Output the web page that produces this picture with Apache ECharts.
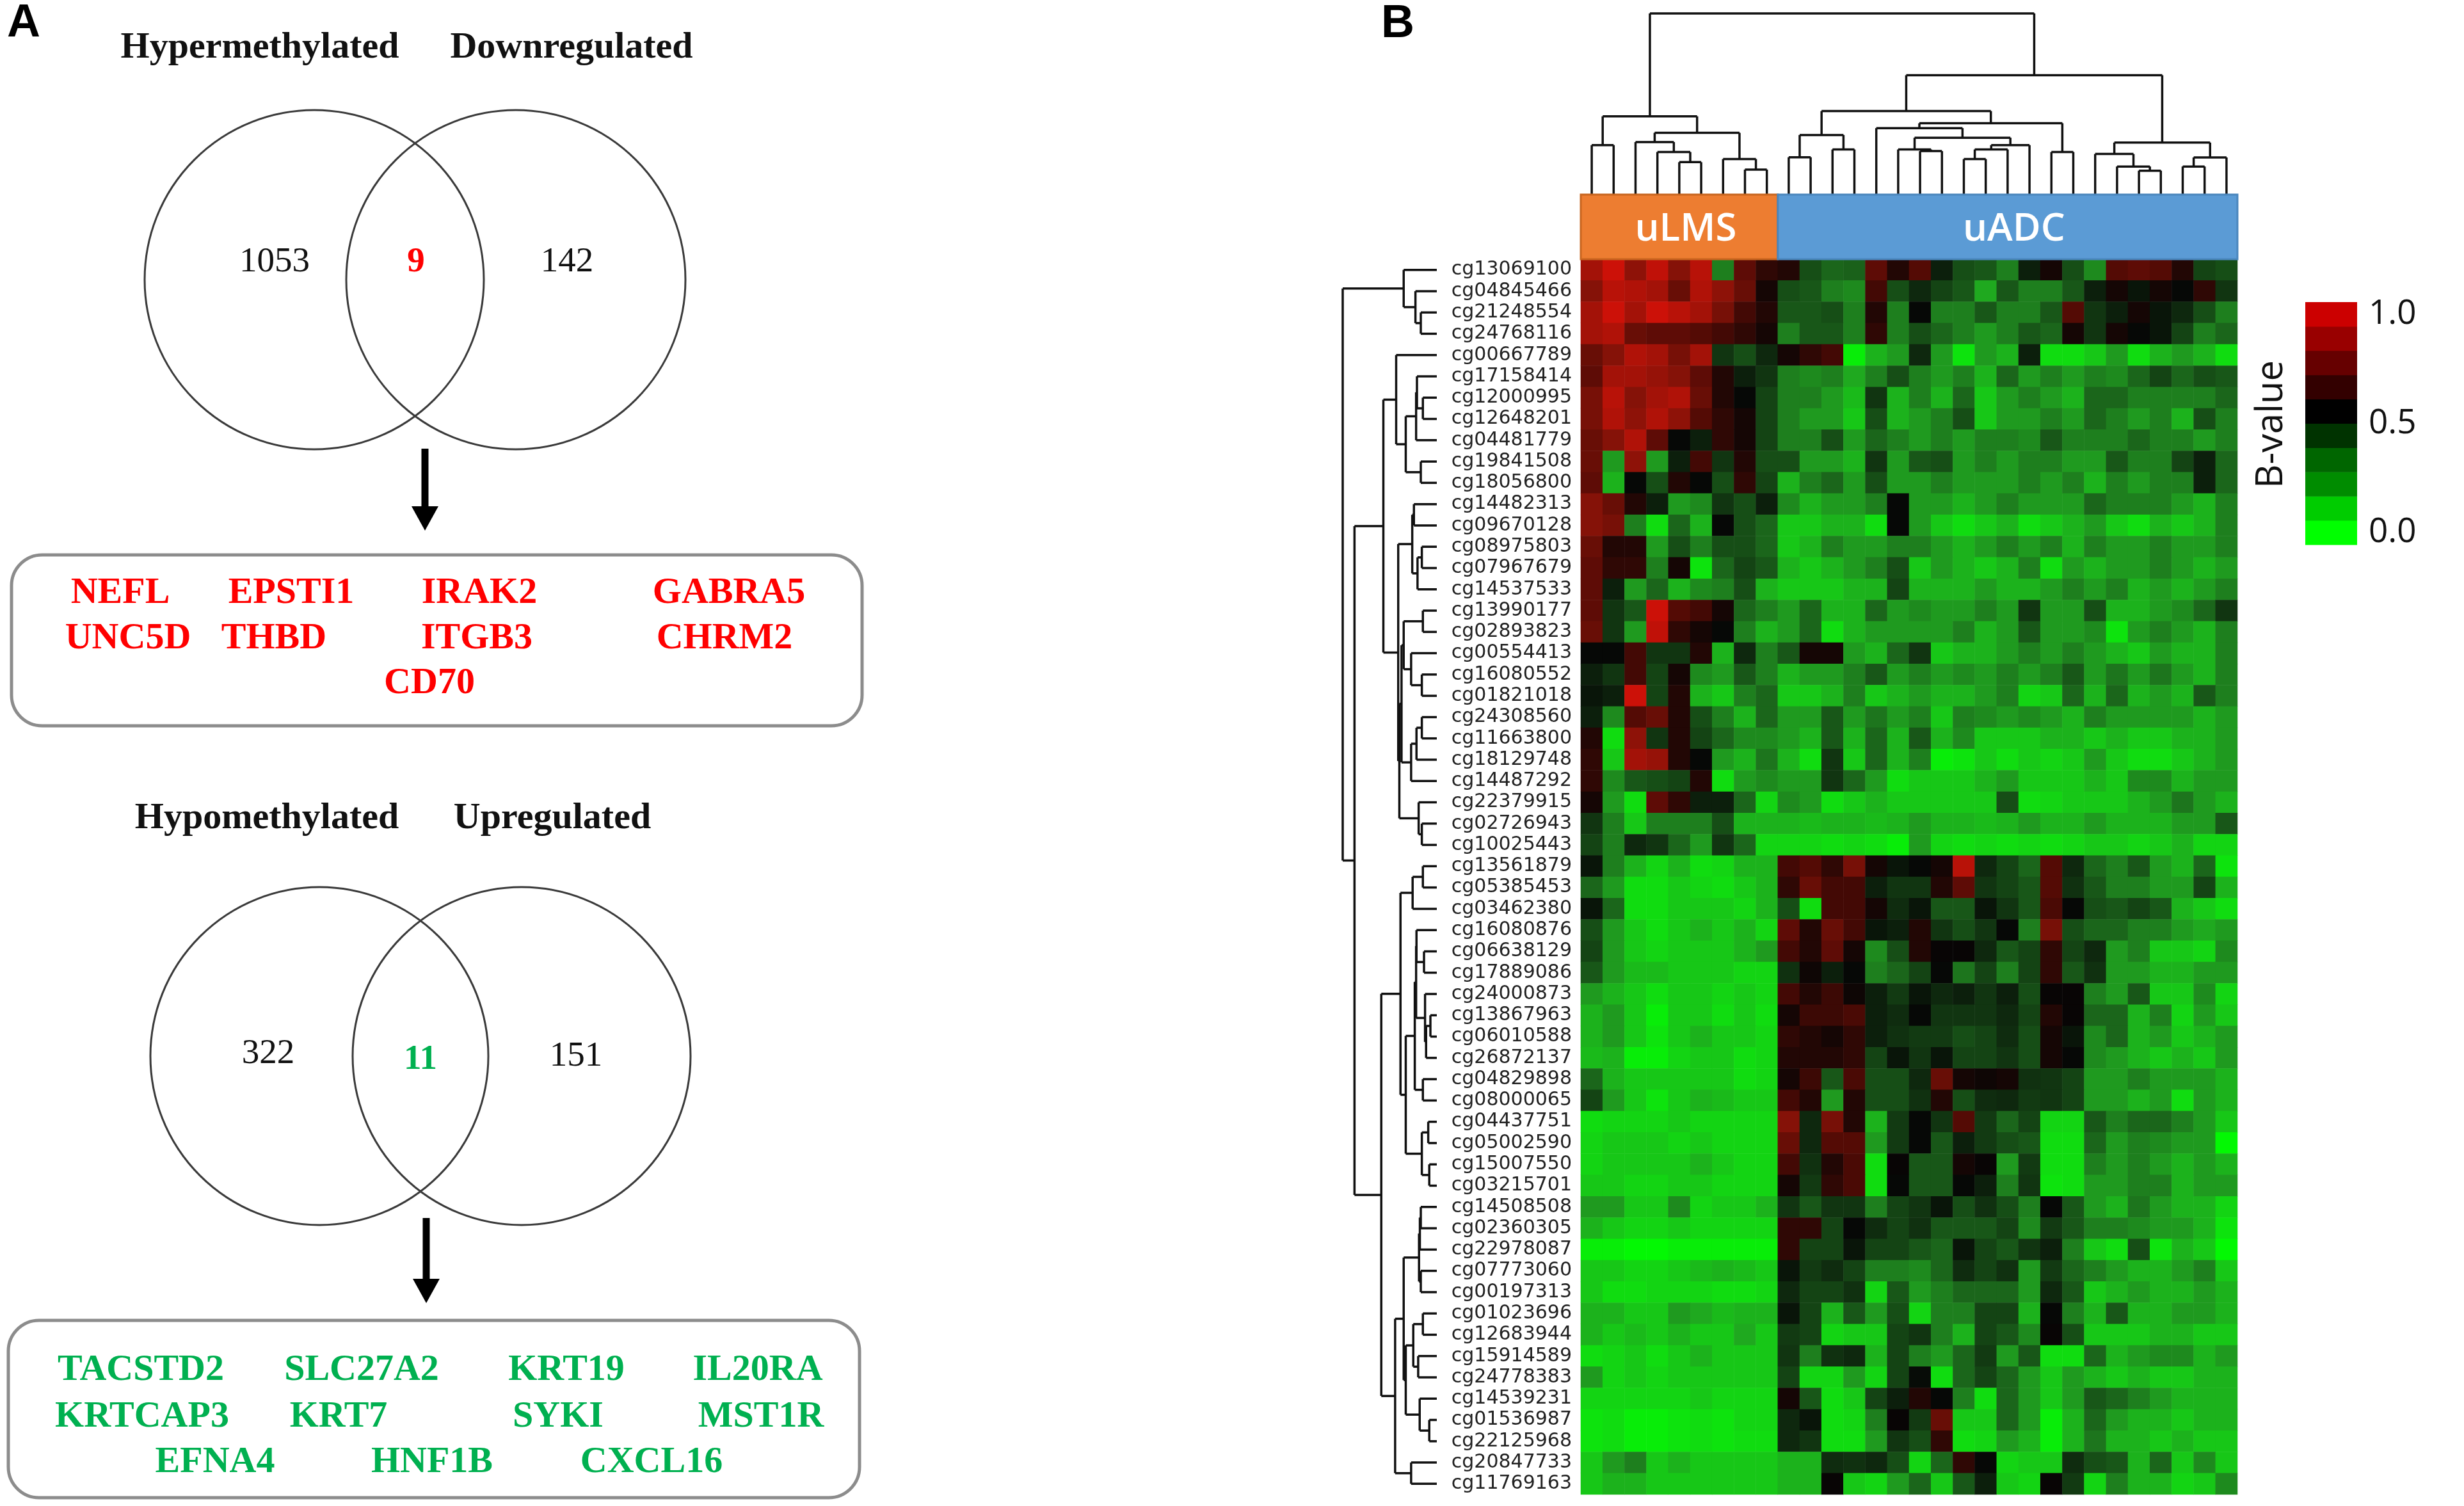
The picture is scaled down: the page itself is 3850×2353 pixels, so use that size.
<!DOCTYPE html>
<html>
<head>
<meta charset="utf-8">
<title>Methylation Venn and heatmap</title>
<script src="https://cdn.jsdelivr.net/npm/echarts/dist/echarts.min.js"></script>
<style>
  html, body { margin: 0; padding: 0; background: #fff; }
  #chart { width: 3850px; height: 2353px; }
</style>
</head>
<body>
<div id="chart"></div>
<script>
// ---- panel A data ----
const vennTitles = [['Hypermethylated', 'Downregulated'], ['Hypomethylated', 'Upregulated']];
const vennCounts = [[1053, 9, 142], [322, 11, 151]];
const vennGenes = [
    [['NEFL', 'EPSTI1', 'IRAK2', 'GABRA5'], ['UNC5D', 'THBD', 'ITGB3', 'CHRM2'], ['CD70']],
    [['TACSTD2', 'SLC27A2', 'KRT19', 'IL20RA'], ['KRTCAP3', 'KRT7', 'SYKI', 'MST1R'], ['EFNA4', 'HNF1B', 'CXCL16']]
];
const vennColors = ['#ff0000', '#00b050'];

// ---- panel B data ----
const groupNames = ['uLMS', 'uADC'];
const groupSizes = [9, 21];
const groupColors = ['#ed7d31', '#5b9bd5'];

const probes = ['cg13069100', 'cg04845466', 'cg21248554', 'cg24768116', 'cg00667789', 'cg17158414',
    'cg12000995', 'cg12648201', 'cg04481779', 'cg19841508', 'cg18056800', 'cg14482313', 'cg09670128',
    'cg08975803', 'cg07967679', 'cg14537533', 'cg13990177', 'cg02893823', 'cg00554413', 'cg16080552',
    'cg01821018', 'cg24308560', 'cg11663800', 'cg18129748', 'cg14487292', 'cg22379915', 'cg02726943',
    'cg10025443', 'cg13561879', 'cg05385453', 'cg03462380', 'cg16080876', 'cg06638129', 'cg17889086',
    'cg24000873', 'cg13867963', 'cg06010588', 'cg26872137', 'cg04829898', 'cg08000065', 'cg04437751',
    'cg05002590', 'cg15007550', 'cg03215701', 'cg14508508', 'cg02360305', 'cg22978087', 'cg07773060',
    'cg00197313', 'cg01023696', 'cg12683944', 'cg15914589', 'cg24778383', 'cg14539231', 'cg01536987',
    'cg22125968', 'cg20847733', 'cg11769163'];

// B-values, uLMS samples (9 columns), one row per probe
const lmsValues = [
    [.85,.95,.8,.92,.78,.9,.3,.7,.62], [.78,.9,.88,.85,.72,.88,.8,.72,.58], [.85,.95,.85,.95,.9,.85,.75,.65,.6],
    [.85,.88,.72,.7,.7,.68,.65,.62,.58], [.72,.78,.88,.85,.75,.85,.45,.4,.48], [.7,.85,.85,.82,.78,.7,.6,.5,.45],
    [.75,.9,.78,.85,.88,.72,.6,.55,.42], [.75,.88,.8,.88,.8,.68,.62,.58,.42], [.72,.78,.88,.7,.55,.5,.62,.58,.42],
    [.72,.25,.8,.25,.5,.65,.45,.6,.4], [.7,.2,.55,.4,.6,.55,.4,.62,.42], [.78,.72,.6,.5,.25,.28,.45,.4,.5],
    [.78,.75,.3,.1,.35,.2,.55,.4,.35], [.72,.6,.6,.25,.4,.3,.4,.4,.35], [.7,.62,.62,.3,.58,.08,.35,.42,.38],
    [.7,.5,.25,.35,.2,.28,.3,.4,.2], [.7,.45,.38,.95,.68,.65,.58,.35,.3], [.72,.45,.25,.92,.62,.58,.55,.3,.2],
    [.55,.55,.65,.45,.45,.6,.2,.48,.3], [.5,.45,.65,.42,.58,.28,.25,.38,.3], [.52,.5,.95,.42,.6,.2,.15,.3,.35],
    [.5,.28,.68,.72,.6,.4,.3,.2,.35], [.6,.1,.8,.45,.6,.42,.35,.28,.28], [.62,.15,.85,.82,.6,.55,.25,.2,.32],
    [.62,.28,.38,.4,.42,.6,.1,.25,.28], [.58,.25,.1,.7,.62,.5,.5,.35,.12], [.45,.3,.15,.3,.3,.3,.4,.2,.2],
    [.42,.3,.48,.45,.35,.25,.45,.35,.12], [.52,.3,.2,.12,.2,.1,.12,.2,.2], [.35,.25,.1,.1,.15,.12,.1,.15,.2],
    [.52,.35,.1,.1,.15,.15,.15,.12,.2], [.4,.25,.15,.1,.15,.2,.15,.2,.12], [.42,.25,.15,.12,.15,.15,.15,.2,.25],
    [.38,.25,.18,.18,.15,.15,.15,.12,.12], [.25,.2,.15,.1,.15,.15,.12,.15,.12], [.2,.25,.15,.05,.15,.15,.1,.15,.1],
    [.2,.25,.15,.08,.15,.2,.15,.15,.12], [.18,.2,.05,.05,.12,.15,.15,.1,.12], [.35,.2,.15,.15,.15,.15,.15,.1,.12],
    [.42,.25,.15,.08,.15,.2,.18,.15,.15], [.1,.12,.12,.12,.15,.12,.12,.12,.12], [.12,.15,.15,.15,.12,.15,.12,.12,.12],
    [.12,.15,.15,.15,.15,.2,.15,.12,.12], [.15,.15,.12,.12,.15,.15,.12,.12,.12], [.25,.25,.15,.15,.28,.12,.15,.15,.2],
    [.2,.15,.12,.12,.15,.12,.12,.12,.12], [.05,.05,.02,.02,.05,.05,.05,.05,.05], [.15,.15,.12,.12,.15,.18,.2,.18,.15],
    [.15,.1,.1,.12,.12,.12,.1,.1,.12], [.2,.2,.15,.15,.25,.22,.18,.2,.2], [.2,.15,.18,.15,.2,.15,.15,.22,.15],
    [.1,.12,.15,.1,.15,.2,.15,.15,.15], [.25,.12,.15,.12,.15,.15,.15,.15,.15], [.12,.12,.12,.12,.12,.15,.12,.12,.12],
    [.08,.1,.05,.05,.08,.1,.08,.12,.12], [.08,.1,.05,.05,.08,.1,.08,.1,.1], [.15,.25,.3,.15,.2,.15,.15,.15,.15],
    [.15,.2,.2,.15,.15,.15,.15,.15,.15]
];

// B-values, uADC samples (21 columns)
const adcValues = [
    [.6,.4,.35,.36,.7,.6,.68,.5,.4,.38,.3,.5,.58,.4,.28,.68,.7,.68,.6,.42,.4],
    [.4,.38,.3,.28,.65,.4,.48,.42,.38,.22,.38,.3,.3,.38,.5,.58,.52,.58,.55,.62,.45],
    [.38,.38,.4,.3,.6,.3,.55,.3,.3,.38,.3,.3,.38,.68,.45,.5,.58,.52,.48,.4,.3],
    [.3,.38,.38,.3,.62,.3,.4,.35,.3,.25,.3,.38,.35,.58,.45,.58,.55,.52,.42,.3,.35],
    [.58,.62,.65,.05,.2,.25,.48,.25,.08,.25,.2,.5,.1,.1,.15,.25,.1,.2,.25,.2,.1],
    [.3,.28,.3,.22,.3,.4,.3,.25,.3,.2,.35,.25,.3,.25,.3,.28,.35,.42,.35,.4,.38],
    [.3,.3,.25,.18,.45,.2,.3,.2,.35,.15,.25,.3,.25,.2,.35,.35,.3,.3,.3,.3,.35],
    [.3,.25,.25,.15,.4,.2,.25,.3,.4,.15,.25,.25,.3,.25,.35,.3,.25,.3,.2,.4,.3],
    [.3,.3,.4,.25,.35,.3,.25,.3,.25,.3,.3,.28,.38,.3,.3,.3,.35,.3,.3,.25,.3],
    [.4,.25,.25,.2,.45,.25,.38,.4,.25,.3,.25,.3,.3,.25,.25,.38,.3,.3,.42,.5,.35],
    [.2,.3,.35,.25,.4,.25,.25,.3,.25,.25,.25,.3,.25,.3,.2,.3,.25,.3,.3,.5,.35],
    [.28,.2,.25,.25,.3,.55,.25,.25,.2,.25,.3,.25,.25,.25,.35,.3,.3,.3,.25,.2,.3],
    [.15,.15,.2,.2,.1,.55,.25,.15,.1,.15,.2,.1,.15,.2,.25,.15,.1,.2,.15,.2,.3],
    [.15,.2,.3,.25,.25,.3,.3,.25,.2,.25,.3,.25,.3,.2,.3,.25,.25,.3,.25,.25,.3],
    [.2,.15,.2,.25,.3,.4,.15,.25,.2,.15,.2,.3,.1,.25,.2,.25,.25,.3,.25,.2,.25],
    [.15,.15,.15,.2,.2,.42,.2,.2,.2,.25,.2,.2,.25,.3,.25,.3,.2,.25,.2,.25,.3],
    [.25,.35,.2,.2,.35,.25,.28,.25,.25,.3,.25,.45,.25,.25,.4,.2,.2,.25,.28,.35,.45],
    [.25,.35,.1,.2,.25,.25,.25,.25,.3,.2,.25,.38,.25,.25,.28,.08,.25,.3,.25,.2,.3],
    [.38,.58,.58,.25,.2,.35,.45,.15,.2,.2,.25,.3,.25,.3,.25,.2,.15,.25,.2,.2,.3],
    [.2,.25,.25,.3,.38,.25,.3,.25,.28,.25,.3,.25,.3,.38,.25,.32,.25,.32,.25,.2,.3],
    [.15,.15,.2,.3,.15,.2,.25,.2,.2,.25,.3,.12,.15,.35,.2,.35,.2,.25,.2,.38,.3],
    [.25,.25,.38,.25,.32,.25,.3,.15,.3,.28,.25,.28,.25,.2,.3,.25,.25,.25,.25,.2,.25],
    [.25,.2,.38,.2,.35,.2,.38,.2,.28,.15,.15,.15,.2,.2,.15,.2,.15,.15,.2,.2,.25],
    [.2,.1,.45,.15,.35,.2,.3,.05,.08,.15,.1,.15,.12,.15,.25,.15,.1,.1,.15,.2,.25],
    [.25,.25,.45,.35,.25,.1,.15,.15,.15,.2,.25,.15,.15,.15,.2,.15,.28,.28,.2,.25,.25],
    [.28,.25,.1,.15,.2,.15,.15,.15,.15,.15,.4,.1,.12,.15,.15,.15,.2,.25,.32,.25,.2],
    [.2,.18,.2,.2,.18,.2,.25,.2,.2,.18,.2,.25,.2,.2,.25,.2,.2,.2,.25,.25,.38],
    [.12,.12,.1,.12,.1,.05,.25,.12,.1,.12,.1,.12,.1,.12,.15,.15,.12,.15,.2,.12,.12],
    [.65,.68,.62,.75,.58,.52,.55,.58,.9,.48,.42,.35,.68,.48,.35,.3,.38,.25,.2,.35,.08],
    [.62,.72,.65,.65,.5,.45,.45,.6,.7,.45,.42,.38,.68,.46,.38,.3,.3,.25,.25,.42,.2],
    [.4,.1,.65,.65,.58,.47,.52,.38,.38,.52,.45,.38,.66,.55,.4,.38,.42,.38,.2,.15,.1],
    [.7,.6,.72,.65,.52,.5,.6,.45,.4,.45,.55,.3,.75,.4,.35,.35,.3,.3,.25,.22,.25],
    [.65,.6,.7,.58,.28,.4,.6,.56,.56,.48,.38,.42,.62,.42,.48,.25,.3,.15,.15,.12,.28],
    [.46,.57,.5,.55,.3,.35,.42,.55,.32,.42,.3,.42,.62,.38,.46,.25,.25,.2,.2,.25,.25],
    [.65,.6,.64,.57,.5,.44,.52,.48,.5,.45,.5,.4,.56,.56,.3,.25,.38,.15,.15,.28,.12],
    [.58,.64,.64,.66,.5,.47,.55,.45,.45,.45,.48,.42,.6,.56,.35,.35,.2,.3,.12,.25,.15],
    [.62,.6,.58,.62,.5,.46,.44,.44,.4,.42,.47,.4,.58,.52,.28,.35,.2,.25,.15,.2,.25],
    [.6,.6,.6,.62,.42,.52,.45,.52,.42,.42,.45,.4,.58,.55,.28,.25,.2,.15,.2,.15,.25],
    [.58,.64,.38,.66,.4,.4,.48,.72,.58,.57,.58,.46,.45,.42,.25,.25,.3,.25,.25,.25,.2],
    [.65,.6,.25,.6,.4,.4,.46,.6,.4,.47,.48,.44,.45,.42,.25,.25,.2,.25,.1,.25,.2],
    [.78,.48,.75,.6,.2,.44,.55,.45,.68,.44,.35,.42,.12,.12,.38,.3,.35,.35,.3,.25,.15],
    [.72,.48,.68,.68,.25,.44,.55,.38,.5,.44,.4,.38,.1,.1,.35,.25,.3,.28,.25,.25,.02],
    [.65,.46,.6,.66,.1,.56,.38,.38,.58,.56,.25,.44,.1,.1,.3,.25,.3,.25,.2,.25,.2],
    [.58,.44,.62,.66,.1,.55,.38,.38,.55,.5,.3,.45,.08,.1,.25,.25,.3,.3,.2,.25,.25],
    [.45,.38,.45,.45,.3,.42,.45,.52,.4,.46,.4,.3,.55,.38,.25,.2,.32,.25,.2,.2,.12],
    [.62,.62,.42,.55,.47,.42,.46,.38,.38,.38,.42,.28,.44,.38,.3,.3,.28,.25,.25,.2,.08],
    [.62,.42,.42,.52,.42,.42,.38,.35,.52,.42,.38,.45,.5,.3,.15,.1,.4,.08,.2,.15,.02],
    [.52,.44,.47,.42,.3,.3,.28,.35,.47,.42,.46,.25,.44,.35,.3,.25,.2,.2,.25,.3,.15],
    [.48,.42,.42,.46,.12,.38,.25,.3,.35,.35,.35,.25,.48,.38,.15,.2,.25,.2,.2,.25,.2],
    [.52,.42,.2,.38,.25,.4,.12,.3,.3,.42,.42,.2,.55,.3,.2,.38,.2,.2,.25,.25,.2],
    [.44,.42,.12,.15,.15,.42,.45,.3,.2,.42,.38,.28,.56,.4,.15,.15,.15,.2,.2,.15,.15],
    [.45,.3,.46,.48,.2,.42,.3,.25,.35,.44,.25,.38,.1,.1,.35,.2,.25,.28,.28,.2,.25],
    [.42,.12,.12,.25,.12,.42,.54,.1,.35,.42,.35,.25,.15,.25,.2,.15,.2,.15,.15,.2,.2],
    [.58,.38,.1,.15,.42,.5,.6,.55,.3,.1,.35,.25,.15,.25,.38,.35,.3,.25,.2,.2,.2],
    [.48,.52,.1,.12,.3,.56,.44,.72,.15,.15,.35,.25,.05,.2,.35,.25,.2,.2,.15,.2,.2],
    [.48,.45,.1,.1,.25,.45,.4,.62,.1,.12,.25,.2,.05,.2,.32,.2,.2,.15,.2,.15,.15],
    [.2,.2,.47,.46,.48,.4,.12,.35,.62,.55,.12,.15,.15,.47,.4,.38,.2,.35,.15,.28,.15],
    [.2,.2,.56,.15,.12,.25,.35,.15,.38,.5,.15,.12,.56,.44,.12,.3,.2,.2,.12,.15,.28]
];

// dendrograms: [left, right, mergeHeight], leaves are column / row indices
const colTree = [
    [[0, 1, .273], [[2, [3, [4, 5, .179], .235], .29], [6, [7, 8, .138], .196], .341], .432],
    [[[[9, 10, .206], [11, 12, .249], .329],
      [[13, [[14, [15, 16, .24], .249], [[[17, 18, .196], 19, .249], 20, .273], .314], .367], [21, 22, .235], .394], .461],
     [[23, [24, [25, 26, .132], .155], .224], [[27, 28, .155], 29, .205], .287], .659],
    1.0];

const rowTree = [
    [0, [1, [2, 3, .17], .227], .352],
    [[[4, [[[5, [6, 7, .148], .211], 8, .22], [9, 10, .17], .33], .432],
      [[[11, 12, .243], [[13, 14, .159], 15, .205], .261],
       [[[[16, 17, .148], [18, [19, 20, .159], .273], .352], [[[21, 22, .159], 23, .216], 24, .273], .375],
        [25, [26, 27, .159], .193], .398], .41], .568],
     [[[[28, 29, .148], 30, .257],
       [[[[31, [32, 33, .136], .216], [34, [[35, 36, .068], 37, .114], .125], .22], [38, 39, .148], .234],
        [[40, 41, .091], [42, 43, .08], .159], .33], .386],
      [[[[[44, 45, .17], 46, .18], [47, 48, .17], .189], [[[49, 50, .148], [51, 52, .198], .25], [53, [54, 55, .08], .182], .33], .352],
       [56, 57, .273], .443], .59], .875],
    1.0];

const heatColors = ['#00ff00', '#12d812', '#1fa81f', '#1d6e1d', '#123812', '#050505',
    '#4e0a05', '#841208', '#b41208', '#e01008'];
const legendColors = ['#00ff00', '#00cc00', '#008c00', '#006600', '#003300', '#000000',
    '#330000', '#660000', '#990000', '#cc0000'];
const legendBreaks = [0, .1, .2, .3, .4, .5, .6, .7, .8, .9, 1];
const legendTicks = { '0.05': '0.0', '0.5': '0.5', '0.95': '1.0' };

// ---- layout of panel A (pixels of its grid) ----
const vennLayout = [
    { titleX: [406, 893], titleY: 75, cx: [491, 806], cy: 437, r: 265,
      countPos: [[429, 410], [650, 410], [886, 410]], arrowX: 664, arrowY: [701, 829],
      box: [18, 867, 1347, 1134], geneY: [927, 998, 1068],
      geneX: [[188, 455, 749, 1139], [200, 428, 745, 1132], [671]] },
    { titleX: [417, 863], titleY: 1279, cx: [499, 815], cy: 1650, r: 264,
      countPos: [[419, 1647], [657, 1656], [900, 1651]], arrowX: 666, arrowY: [1903, 2036],
      box: [13, 2063, 1343, 2340], geneY: [2141, 2214, 2285],
      geneX: [[220, 565, 885, 1184], [222, 529, 872, 1189], [336, 675, 1018]] }
];
const SERIF = '"Liberation Serif", "Times New Roman", serif';

const chart = echarts.init(document.getElementById('chart'));

// heatmap cells
const samples = [];
groupNames.forEach((g, gi) => {
    for (let i = 1; i <= groupSizes[gi]; i++) samples.push(g + i);
});
const heatData = [];
probes.forEach((p, r) => {
    lmsValues[r].concat(adcValues[r]).forEach((v, c) => heatData.push([c, r, v]));
});

// tree -> line segments
function treeSegments(node, segs, flip) {
    if (typeof node === 'number') return { pos: node + 0.5, h: 0 };
    const a = treeSegments(node[0], segs, flip), b = treeSegments(node[1], segs, flip), h = node[2];
    const add = (p1, h1, p2, h2) => segs.push(flip ? [h1, p1, h2, p2] : [p1, h1, p2, h2]);
    add(a.pos, a.h, a.pos, h);
    add(b.pos, b.h, b.pos, h);
    add(a.pos, h, b.pos, h);
    return { pos: (a.pos + b.pos) / 2, h: h };
}
const colSegs = [], rowSegs = [];
treeSegments(colTree, colSegs, false);
treeSegments(rowTree, rowSegs, true);

function renderSeg(params, api) {
    const p1 = api.coord([api.value(0), api.value(1)]);
    const p2 = api.coord([api.value(2), api.value(3)]);
    return {
        type: 'line',
        shape: { x1: p1[0], y1: p1[1], x2: p2[0], y2: p2[1] },
        style: { stroke: '#111', lineWidth: 3.5 }
    };
}

// group annotation bar
const groupData = [];
let start = 0;
groupSizes.forEach((n, i) => { groupData.push([start, start + n, i]); start += n; });

// legend bands
const legendData = legendColors.map((c, i) => [legendBreaks[i], legendBreaks[i + 1], i]);

function txt(x, y, text, font, fill, extra) {
    return Object.assign({
        type: 'text',
        style: { x: x, y: y, text: text, font: font, fill: fill,
            align: 'center', verticalAlign: 'middle', textAlign: 'center', textVerticalAlign: 'middle' }
    }, extra || {});
}

function renderVenn(params, api) {
    const i = params.dataIndex, L = vennLayout[i];
    const P = (x, y) => api.coord([x, y]);
    const kids = [];
    vennTitles[i].forEach((t, k) => {
        const p = P(L.titleX[k], L.titleY);
        kids.push(txt(p[0], p[1], t, 'bold 58px ' + SERIF, '#111'));
    });
    const rad = api.size([L.r, 0])[0];
    L.cx.forEach(cx => {
        const p = P(cx, L.cy);
        kids.push({ type: 'circle', shape: { cx: p[0], cy: p[1], r: rad },
            style: { fill: 'none', stroke: '#3a3a3a', lineWidth: 3 } });
    });
    L.countPos.forEach((cp, k) => {
        const p = P(cp[0], cp[1]);
        const mid = k === 1;
        kids.push(txt(p[0], p[1], String(api.value(k)),
            (mid ? 'bold ' : '') + '55px ' + SERIF, mid ? vennColors[i] : '#111'));
    });
    // arrow
    const a1 = P(L.arrowX, L.arrowY[0]), a2 = P(L.arrowX, L.arrowY[1]);
    kids.push({ type: 'rect', shape: { x: a1[0] - 5.5, y: a1[1], width: 11, height: a2[1] - a1[1] - 34 },
        style: { fill: '#000' } });
    kids.push({ type: 'polygon', shape: { points: [[a2[0] - 21, a2[1] - 38], [a2[0] + 21, a2[1] - 38], [a2[0], a2[1]]] },
        style: { fill: '#000' } });
    // gene box
    const b1 = P(L.box[0], L.box[1]), b2 = P(L.box[2], L.box[3]);
    kids.push({ type: 'rect', shape: { x: b1[0], y: b1[1], width: b2[0] - b1[0], height: b2[1] - b1[1], r: 48 },
        style: { fill: 'none', stroke: '#8c8c8c', lineWidth: 5 } });
    vennGenes[i].forEach((row, ri) => {
        row.forEach((g, gi) => {
            const p = P(L.geneX[ri][gi], L.geneY[ri]);
            kids.push(txt(p[0], p[1], g, 'bold 58px ' + SERIF, vennColors[i]));
        });
    });
    return { type: 'group', children: kids };
}

const hidden = { show: false };
const option = {
    backgroundColor: '#ffffff',
    animation: false,
    grid: [
        { left: 2470, top: 405, width: 1026, height: 1930 },   // heatmap
        { left: 2470, top: 21, width: 1026, height: 283 },     // column dendrogram
        { left: 2470, top: 304, width: 1026, height: 101 },    // group bar
        { left: 2098, top: 405, width: 147, height: 1930 },    // row dendrogram
        { left: 3602, top: 472, width: 81, height: 379 },      // colour legend
        { left: 0, top: 0, width: 1400, height: 2353 }         // panel A
    ],
    xAxis: [
        { type: 'category', gridIndex: 0, data: samples, show: false },
        Object.assign({ type: 'value', gridIndex: 1, min: 0, max: 30 }, hidden),
        Object.assign({ type: 'value', gridIndex: 2, min: 0, max: 30 }, hidden),
        Object.assign({ type: 'value', gridIndex: 3, min: 0, max: 1, inverse: true }, hidden),
        Object.assign({ type: 'value', gridIndex: 4, min: 0, max: 1 }, hidden),
        Object.assign({ type: 'value', gridIndex: 5, min: 0, max: 1400 }, hidden)
    ],
    yAxis: [
        {
            type: 'category', gridIndex: 0, data: probes, inverse: true,
            axisLine: { show: false }, axisTick: { show: false },
            axisLabel: { interval: 0, fontSize: 30, fontFamily: 'DejaVu Sans', color: '#222', margin: 14 }
        },
        Object.assign({ type: 'value', gridIndex: 1, min: 0, max: 1 }, hidden),
        Object.assign({ type: 'value', gridIndex: 2, min: 0, max: 1 }, hidden),
        Object.assign({ type: 'value', gridIndex: 3, min: 0, max: 58, inverse: true }, hidden),
        {
            type: 'value', gridIndex: 4, min: 0, max: 1, interval: 0.05, position: 'right',
            axisLine: { show: false }, axisTick: { show: false }, splitLine: { show: false },
            axisLabel: {
                margin: 18, fontSize: 53, fontFamily: 'Open Sans', color: '#111',
                formatter: v => legendTicks[String(+v.toFixed(2))] || ''
            }
        },
        Object.assign({ type: 'value', gridIndex: 5, min: 0, max: 2353, inverse: true }, hidden)
    ],
    visualMap: [{
        type: 'continuous', show: false, seriesIndex: 0, dimension: 2,
        min: 0, max: 1, inRange: { color: heatColors }
    }],
    series: [
        {
            type: 'heatmap', xAxisIndex: 0, yAxisIndex: 0, data: heatData,
            itemStyle: { borderWidth: 0 }, emphasis: { disabled: true }
        },
        {
            type: 'custom', xAxisIndex: 1, yAxisIndex: 1, data: colSegs,
            encode: { x: [0, 2], y: [1, 3] }, renderItem: renderSeg, silent: true
        },
        {
            type: 'custom', xAxisIndex: 3, yAxisIndex: 3, data: rowSegs,
            encode: { x: [0, 2], y: [1, 3] }, renderItem: renderSeg, silent: true
        },
        {
            type: 'custom', xAxisIndex: 2, yAxisIndex: 2, data: groupData,
            encode: { x: [0, 1] }, silent: true,
            renderItem: function (params, api) {
                const p1 = api.coord([api.value(0), 1]), p2 = api.coord([api.value(1), 0]);
                const gi = api.value(2);
                return {
                    type: 'group', children: [
                        { type: 'rect', shape: { x: p1[0], y: p1[1], width: p2[0] - p1[0], height: p2[1] - p1[1] },
                          style: { fill: groupColors[gi], stroke: gi === 0 ? '#c8651f' : '#4a86bd', lineWidth: 3 } },
                        txt((p1[0] + p2[0]) / 2 + 10, (p1[1] + p2[1]) / 2 + 4, groupNames[gi],
                            '600 60px "Open Sans"', '#ffffff')
                    ]
                };
            }
        },
        {
            type: 'custom', xAxisIndex: 4, yAxisIndex: 4, data: legendData,
            encode: { y: [0, 1] }, silent: true,
            renderItem: function (params, api) {
                const p1 = api.coord([0, api.value(1)]), p2 = api.coord([1, api.value(0)]);
                return { type: 'rect', shape: { x: p1[0], y: p1[1], width: p2[0] - p1[0], height: p2[1] - p1[1] + 0.5 },
                    style: { fill: legendColors[api.value(2)] } };
            }
        },
        {
            type: 'custom', xAxisIndex: 5, yAxisIndex: 5, data: vennCounts,
            encode: { x: 0 }, renderItem: renderVenn, silent: true
        }
    ],
    graphic: [
        txt(37, 37, 'A', 'bold 72px "Liberation Sans"', '#000'),
        txt(2184, 38, 'B', 'bold 72px "Liberation Sans"', '#000'),
        {
            type: 'text', x: 3549, y: 663, rotation: Math.PI / 2,
            style: { x: 0, y: 0, text: 'B-value', font: '58px "Open Sans"', fill: '#111',
                align: 'center', verticalAlign: 'middle', textAlign: 'center', textVerticalAlign: 'middle' }
        }
    ]
};

chart.setOption(option);
</script>
</body>
</html>
